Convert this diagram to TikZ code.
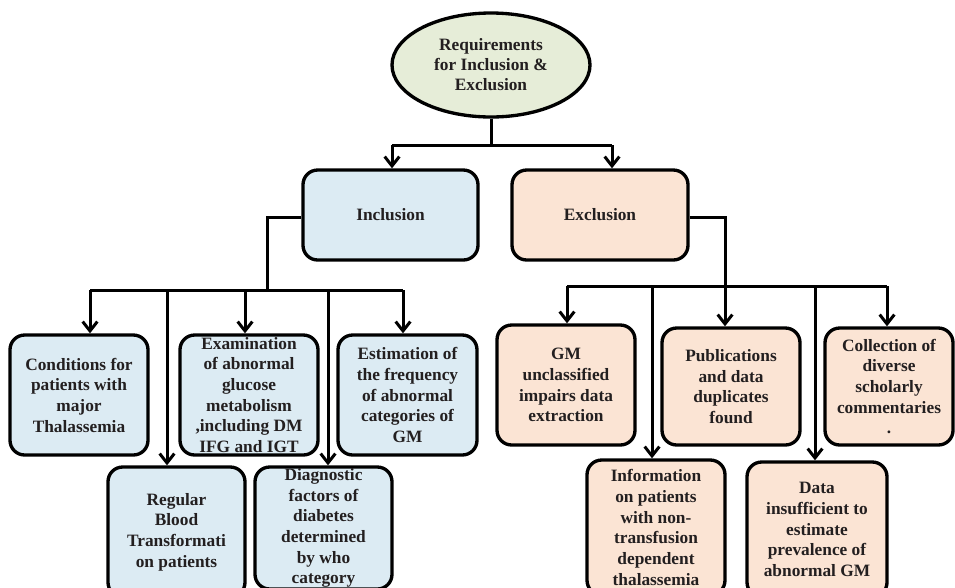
\documentclass[tikz,border=0pt]{standalone}
\usepackage{fontspec}
\setmainfont{Liberation Serif}
\usetikzlibrary{arrows.meta,shapes.geometric,calc}
\definecolor{inclfill}{RGB}{220,235,243}
\definecolor{exclfill}{RGB}{251,228,212}
\definecolor{rootfill}{RGB}{230,237,216}
\definecolor{txt}{RGB}{35,31,32}
\tikzset{
  box/.style={draw=black, line width=2.5pt, rounded corners=11pt, align=center,
    inner sep=0pt, text=txt, font=\fontsize{13}{15.5}\selectfont\bfseries},
  inclbox/.style={box, fill=inclfill},
  exclbox/.style={box, fill=exclfill},
  conn/.style={line width=2.25pt, line join=miter},
  arr/.style={conn, -{Straight Barb[length=7pt,width=11pt,line width=2.25pt]}},
}
\begin{document}
\begin{tikzpicture}[x=0.75pt,y=-0.75pt]
\path[use as bounding box] (0,0) rectangle (955,587);
\clip (0,0) rectangle (955,587);
\fill[white] (0,0) rectangle (955,587);

% root
\node[ellipse, draw=black, line width=2.5pt, fill=rootfill, minimum width=148.5pt,
  minimum height=78pt, inner sep=0pt, align=center, text=txt,
  font=\fontsize{13}{15}\selectfont\bfseries] (root) at (491,65)
  {Requirements\\for Inclusion \&\\Exclusion};

% level 1
\node[inclbox, minimum width=131.25pt, minimum height=67.5pt] (incl) at (390.5,215) {Inclusion};
\node[exclbox, minimum width=132pt, minimum height=67.5pt] (excl) at (600,215) {Exclusion};

% inclusion children
\node[inclbox, minimum width=103.5pt, minimum height=90pt] (i1) at (79,395)
  {Conditions for\\patients with\\major\\Thalassemia};
\node[inclbox, minimum width=103.5pt, minimum height=90pt] (i2) at (249,395)
  {Examination\\of abnormal\\glucose\\metabolism\\,including DM\\IFG and IGT};
\node[inclbox, minimum width=104.25pt, minimum height=90pt] (i3) at (407.5,395)
  {Estimation of\\the frequency\\of abnormal\\categories of\\GM};
\node[inclbox, minimum width=102.75pt, minimum height=97.5pt] (i4) at (176.5,532)
  {Regular\\Blood\\Transformati\\on patients};
\node[inclbox, minimum width=102.75pt, minimum height=91.5pt] (i5) at (323.5,528)
  {Diagnostic\\factors of\\diabetes\\determined\\by who\\category};

% exclusion children
\node[exclbox, minimum width=103.5pt, minimum height=90pt] (e1) at (566,385)
  {GM\\unclassified\\impairs data\\extraction};
\node[exclbox, minimum width=103.5pt, minimum height=87.75pt] (e2) at (731,386.5)
  {Publications\\and data\\duplicates\\found};
\node[exclbox, minimum width=96pt, minimum height=87.75pt] (e3) at (889,386.5)
  {Collection of\\diverse\\scholarly\\commentaries\\.};
\node[exclbox, minimum width=103.5pt, minimum height=101.25pt] (e4) at (656,527.5)
  {Information\\on patients\\with non-\\transfusion\\dependent\\thalassemia};
\node[exclbox, minimum width=105pt, minimum height=101.25pt] (e5) at (817,529.5)
  {Data\\insufficient to\\estimate\\prevalence of\\abnormal GM};

% root connectors
\coordinate (rj) at (491,145);
\coordinate (rl) at (392,145);
\coordinate (rr) at (612,145);
\draw[conn] (root.south) -- (rj);
\draw[conn] (rl) -- (rr);
\draw[arr] (rl) -- (rl |- incl.north);
\draw[arr] (rr) -- (rr |- excl.north);

% inclusion connectors
\coordinate (ic) at (267,217);
\coordinate (ib) at (267,290);
\coordinate (ib1) at (90,290);
\coordinate (ib2) at (167,290);
\coordinate (ib3) at (245,290);
\coordinate (ib4) at (328,290);
\coordinate (ib5) at (403,290);
\draw[conn] (incl.west |- ic) -- (ic) -- (ib);
\draw[conn] (ib1) -- (ib5);
\draw[arr] (ib1) -- (ib1 |- i1.north);
\draw[arr] (ib3) -- (ib3 |- i2.north);
\draw[arr] (ib5) -- (ib5 |- i3.north);
\draw[arr] (ib2) -- (ib2 |- i4.north);
\draw[arr] (ib4) -- (ib4 |- i5.north);

% exclusion connectors
\coordinate (ec) at (725,217);
\coordinate (eb) at (725,286);
\coordinate (eb1) at (567,286);
\coordinate (eb2) at (652,286);
\coordinate (eb3) at (725,286);
\coordinate (eb4) at (815,286);
\coordinate (eb5) at (887,286);
\draw[conn] (excl.east |- ec) -- (ec) -- (eb);
\draw[conn] (eb1) -- (eb5);
\draw[arr] (eb1) -- (eb1 |- e1.north);
\draw[arr] (eb3) -- (eb3 |- e2.north);
\draw[arr] (eb5) -- (eb5 |- e3.north);
\draw[arr] (eb2) -- (eb2 |- e4.north);
\draw[arr] (eb4) -- (eb4 |- e5.north);
\end{tikzpicture}
\end{document}
